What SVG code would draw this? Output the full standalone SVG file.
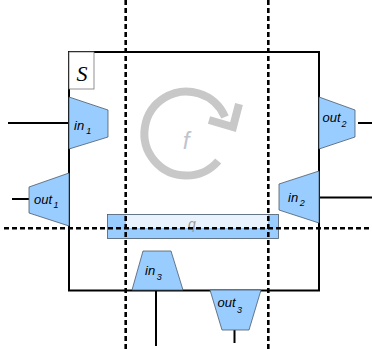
<svg xmlns="http://www.w3.org/2000/svg" width="372" height="349" viewBox="0 0 372 349">
<style>
.port{fill:#99ccff;stroke:#4a5a6a;stroke-width:0.8}
.wire{stroke:#000;stroke-width:2;fill:none}
.dash{stroke:#000;stroke-width:2.6;stroke-dasharray:5,3;fill:none}
.lbl{font-family:"Liberation Sans",Arial,sans-serif;font-style:italic;font-size:13px;fill:#000}
.sub{font-size:9px}
</style>
<rect width="372" height="349" fill="#fff"/>
<g id="system">
<rect x="69" y="52" width="250" height="238.5" fill="none" stroke="#000" stroke-width="2"/>
</g>
<g id="label-S">
<rect x="69" y="52" width="25" height="37" fill="#fff" stroke="#777" stroke-width="0.8"/>
<text x="82" y="81" text-anchor="middle" font-family="Liberation Serif,serif" font-style="italic" font-size="22">S</text>
</g>
<g id="f">
<path d="M218.2,161 A42,42 0 1 1 225,117" fill="none" stroke="#c8c8c8" stroke-width="8"/>
<polyline points="209,120 233,127 239,104" fill="none" stroke="#c8c8c8" stroke-width="8"/>
<text x="186" y="149" text-anchor="middle" font-family="Liberation Sans,sans-serif" font-style="italic" font-size="24" fill="#c0c4cc">f</text>
</g>
<g id="q">
<rect x="107.5" y="214.5" width="171" height="24" fill="#99ccff" stroke="#4a5a6a" stroke-width="0.8"/>
<rect x="126" y="215" width="142" height="13" fill="#e8f3fd"/>
<text x="192" y="229" text-anchor="middle" font-family="Liberation Sans,sans-serif" font-style="italic" font-size="14" fill="#999">q</text>
</g>
<g id="connectors">
<line class="wire" x1="8" y1="123" x2="69" y2="123"/>
<line class="wire" x1="358" y1="123" x2="372" y2="123"/>
<line class="wire" x1="12" y1="199" x2="29" y2="199"/>
<line class="wire" x1="319" y1="197.5" x2="372" y2="197.5"/>
<line class="wire" x1="156" y1="290" x2="156" y2="346"/>
<line class="wire" x1="234.5" y1="330" x2="234.5" y2="343"/>
</g>
<g id="in1">
<polygon class="port" points="69,97 108,110 108,137 69,149"/>
<text class="lbl" x="74" y="130">in<tspan class="sub" dx="2" dy="4">1</tspan></text>
</g>
<g id="out2">
<polygon class="port" points="319,97 355,110 355,137 319,149"/>
<text class="lbl" x="322.5" y="122">out<tspan class="sub" dx="1" dy="5">2</tspan></text>
</g>
<g id="out1">
<polygon class="port" points="69,173 69,226 29,213 29,187"/>
<text class="lbl" x="34" y="204">out<tspan class="sub" dx="1.5" dy="4">1</tspan></text>
</g>
<g id="in2">
<polygon class="port" points="319,171 319,223 279,210 279,184"/>
<text class="lbl" x="288" y="201.5">in<tspan class="sub" dx="1.5" dy="4">2</tspan></text>
</g>
<g id="in3">
<polygon class="port" points="132,290 143,251 171,251 183,290"/>
<text class="lbl" x="145" y="275">in<tspan class="sub" dx="1.5" dy="5">3</tspan></text>
</g>
<g id="out3">
<polygon class="port" points="210,290 261,290 249,330 222,330"/>
<text class="lbl" x="217.5" y="306.5">out<tspan class="sub" dx="1.5" dy="6">3</tspan></text>
</g>
<g id="cuts">
<line class="dash" x1="125.7" y1="0" x2="125.7" y2="349"/>
<line class="dash" x1="268.3" y1="0" x2="268.3" y2="349"/>
<line class="dash" x1="4" y1="228.3" x2="372" y2="228.3"/>
</g>
</svg>
